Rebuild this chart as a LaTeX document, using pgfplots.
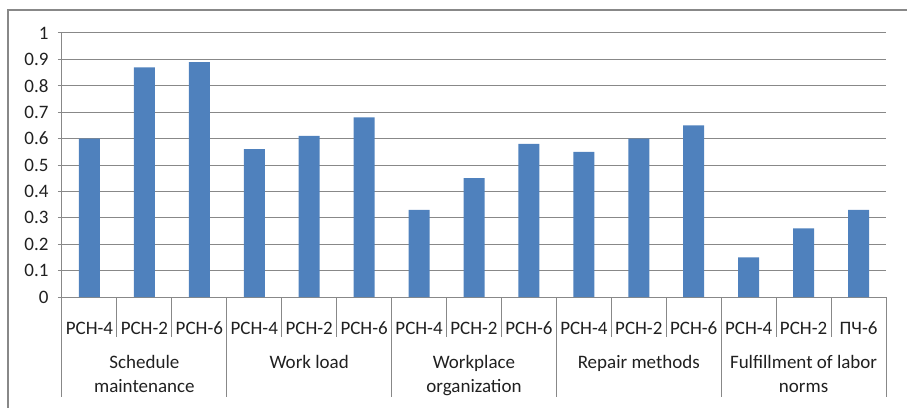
\documentclass[border=0pt]{standalone}
\usepackage{fontspec}
\setmainfont{Carlito}
\usepackage{pgfplots}
\pgfplotsset{compat=1.18}
\definecolor{barblue}{HTML}{4F81BD}
\definecolor{gridgray}{HTML}{888888}
\definecolor{txt}{HTML}{202020}
\begin{document}
\begin{tikzpicture}[font=\fontsize{19}{23}\selectfont]
\useasboundingbox (-62pt,-110pt) rectangle (845pt,297pt);
\draw[gridgray, line width=1.2pt] (-54pt,-115pt) -- (-54pt,287pt) -- (850pt,287pt);
\begin{axis}[
  at={(0,0)}, anchor=south west,
  scale only axis, width=824pt, height=264pt,
  xmin=-0.5, xmax=14.5, ymin=0, ymax=1,
  ytick={0,0.1,0.2,0.3,0.4,0.5,0.6,0.7,0.8,0.9,1},
  yticklabels={0,0.1,0.2,0.3,0.4,0.5,0.6,0.7,0.8,0.9,1},
  ymajorgrids, grid style={gridgray, line width=1pt},
  axis lines*=left,
  axis line style={gridgray, line width=1pt, -},
  tick align=outside, major tick length=4pt,
  y tick style={gridgray, line width=1pt},
  x tick style={draw=none},
  xtick={0,...,14},
  xticklabels={РСН-4,РСН-2,РСН-6,РСН-4,РСН-2,РСН-6,РСН-4,РСН-2,РСН-6,РСН-4,РСН-2,РСН-6,РСН-4,РСН-2,ПЧ-6},
  xticklabel style={anchor=base, yshift=-33pt, text=txt},
  yticklabel style={anchor=east, xshift=-6pt, text=txt},
  ybar, bar width=21pt,
  clip=false,
]
\addplot[fill=barblue, draw=none] coordinates {
  (0,0.60) (1,0.87) (2,0.89)
  (3,0.56) (4,0.61) (5,0.68)
  (6,0.33) (7,0.45) (8,0.58)
  (9,0.55) (10,0.60) (11,0.65)
  (12,0.15) (13,0.26) (14,0.33)
};
\pgfplotsinvokeforeach{0.5,1.5,3.5,4.5,6.5,7.5,9.5,10.5,12.5,13.5}{
  \draw[gridgray, line width=1pt] (axis cs:#1,0) -- ++(0pt,-40pt);
}
\pgfplotsinvokeforeach{-0.5,2.5,5.5,8.5,11.5,14.5}{
  \draw[gridgray, line width=1pt] (axis cs:#1,0) -- ++(0pt,-100pt);
}
\node[anchor=base, text=txt, yshift=-71pt] at (axis cs:1,0) {Schedule};
\node[anchor=base, text=txt, yshift=-95pt] at (axis cs:1,0) {maintenance};
\node[anchor=base, text=txt, yshift=-71pt] at (axis cs:4,0) {Work load};
\node[anchor=base, text=txt, yshift=-71pt] at (axis cs:7,0) {Workplace};
\node[anchor=base, text=txt, yshift=-95pt] at (axis cs:7,0) {organization};
\node[anchor=base, text=txt, yshift=-71pt] at (axis cs:10,0) {Repair methods};
\node[anchor=base, text=txt, yshift=-71pt] at (axis cs:13,0) {Fulfillment of labor};
\node[anchor=base, text=txt, yshift=-95pt] at (axis cs:13,0) {norms};
\end{axis}
\end{tikzpicture}
\end{document}
